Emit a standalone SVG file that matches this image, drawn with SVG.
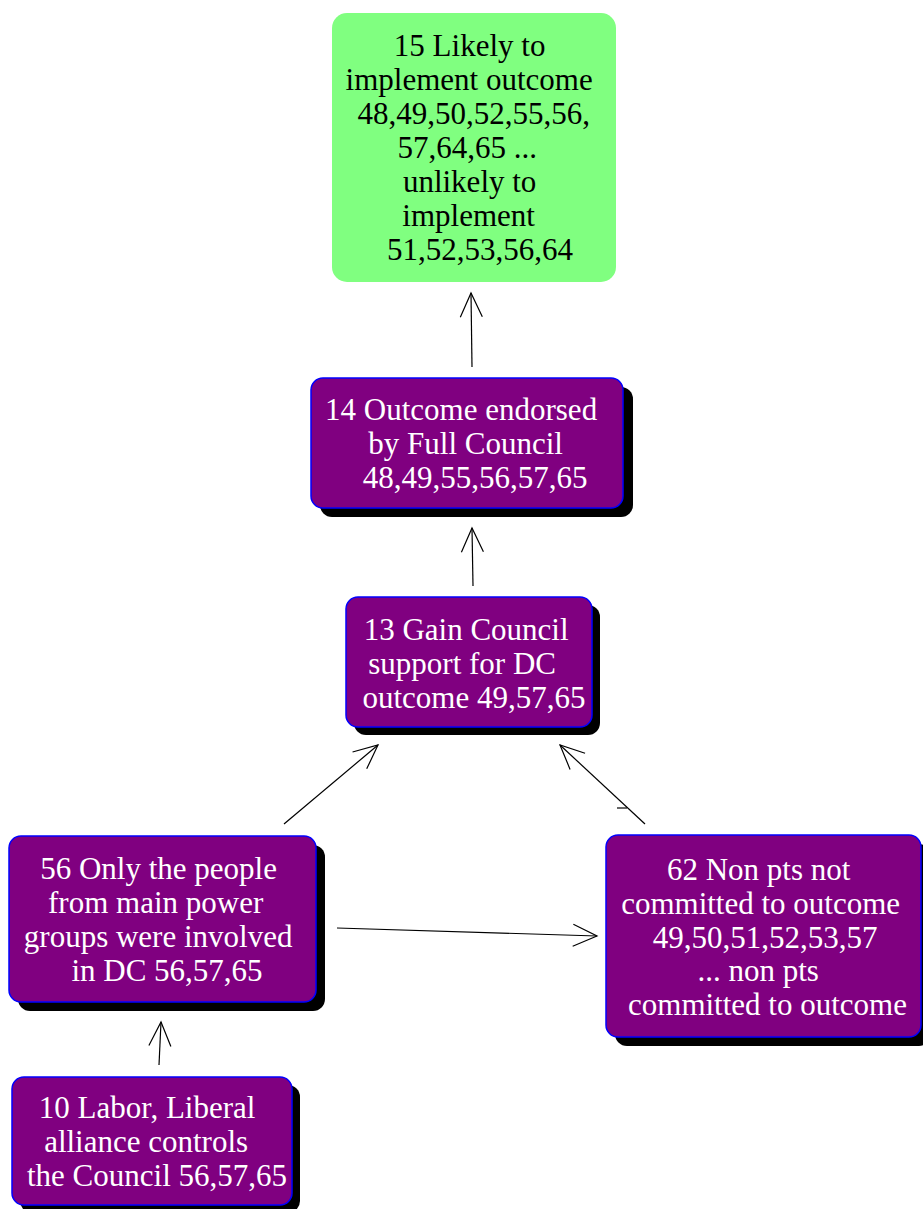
<svg xmlns="http://www.w3.org/2000/svg" width="923" height="1209" viewBox="0 0 923 1209">
  <style>
    .shadow { fill: #000000; }
    .box { fill: #800080; stroke: #0000ff; stroke-width: 1.5; }
    .goal { fill: #80ff80; stroke: none; }
    .label { font-family: "Liberation Serif", "Times New Roman", serif; font-size: 31px; text-anchor: middle; }
    .light { fill: #ffffff; }
    .dark { fill: #000000; }
    .edge { fill: none; stroke: #000000; stroke-width: 1.2; marker-end: url(#arrow); }
  </style>
  <defs>
    <marker id="arrow" markerUnits="userSpaceOnUse" viewBox="-27 -13 29 26" markerWidth="29" markerHeight="26" refX="0" refY="0" orient="auto" overflow="visible">
      <path d="M -24,-11 L 0,0 L -24,11" fill="none" stroke="#000000" stroke-width="1.2"/>
    </marker>
  </defs>

  <rect width="923" height="1209" fill="#ffffff"/>

  <!-- connectors -->
  <g id="connectors">
    <line class="edge" x1="472" y1="367" x2="471" y2="293"/>
    <line class="edge" x1="473" y1="586" x2="472" y2="528"/>
    <line class="edge" x1="284" y1="824" x2="378" y2="745"/>
    <line class="edge" x1="645" y1="824" x2="560" y2="745"/>
    <line x1="617" y1="808" x2="627" y2="808" stroke="#000000" stroke-width="1.2"/>
    <line class="edge" x1="337" y1="928" x2="597" y2="936"/>
    <line class="edge" x1="159" y1="1065" x2="161" y2="1022"/>
  </g>

  <!-- node 15 -->
  <g id="node15">
    <rect class="goal" x="332" y="13" width="284" height="269" rx="15" ry="15"/>
    <text class="label dark">
      <tspan x="473.5" y="56">15 Likely to</tspan>
      <tspan x="473" y="90">implement outcome</tspan>
      <tspan x="477.5" y="124">48,49,50,52,55,56,</tspan>
      <tspan x="471" y="158">57,64,65 ...</tspan>
      <tspan x="473.5" y="192">unlikely to</tspan>
      <tspan x="472.5" y="226">implement</tspan>
      <tspan x="480" y="260">51,52,53,56,64</tspan>
    </text>
  </g>

  <!-- node 14 -->
  <g id="node14">
    <rect class="shadow" x="320" y="387" width="313" height="130" rx="12" ry="12"/>
    <rect class="box" x="311" y="378" width="312" height="130" rx="12" ry="12"/>
    <text class="label light">
      <tspan x="465" y="420">14 Outcome endorsed</tspan>
      <tspan x="469.5" y="454">by Full Council</tspan>
      <tspan x="475" y="488">48,49,55,56,57,65</tspan>
    </text>
  </g>

  <!-- node 13 -->
  <g id="node13">
    <rect class="shadow" x="354" y="605" width="246" height="130" rx="12" ry="12"/>
    <rect class="box" x="346" y="597" width="246" height="130" rx="12" ry="12"/>
    <text class="label light">
      <tspan x="470" y="640">13 Gain Council</tspan>
      <tspan x="466" y="674">support for DC</tspan>
      <tspan x="474" y="708">outcome 49,57,65</tspan>
    </text>
  </g>

  <!-- node 56 -->
  <g id="node56">
    <rect class="shadow" x="18" y="845" width="307" height="166" rx="12" ry="12"/>
    <rect class="box" x="9" y="836" width="307" height="166" rx="12" ry="12"/>
    <text class="label light">
      <tspan x="162.5" y="879">56 Only the people</tspan>
      <tspan x="159.5" y="913">from main power</tspan>
      <tspan x="162" y="947">groups were involved</tspan>
      <tspan x="167" y="981">in DC 56,57,65</tspan>
    </text>
  </g>

  <!-- node 62 -->
  <g id="node62">
    <rect class="shadow" x="615" y="844" width="316" height="202" rx="12" ry="12"/>
    <rect class="box" x="606" y="835" width="315" height="202" rx="12" ry="12"/>
    <text class="label light">
      <tspan x="762.5" y="880">62 Non pts not</tspan>
      <tspan x="764.5" y="914">committed to outcome</tspan>
      <tspan x="769" y="948">49,50,51,52,53,57</tspan>
      <tspan x="762" y="981">... non pts</tspan>
      <tspan x="767.5" y="1015">committed to outcome</tspan>
    </text>
  </g>

  <!-- node 10 -->
  <g id="node10">
    <rect class="shadow" x="20" y="1085" width="280" height="128" rx="12" ry="12"/>
    <rect class="box" x="12" y="1077" width="280" height="128" rx="12" ry="12"/>
    <text class="label light">
      <tspan x="151" y="1118">10 Labor, Liberal</tspan>
      <tspan x="150" y="1152">alliance controls</tspan>
      <tspan x="157" y="1186">the Council 56,57,65</tspan>
    </text>
  </g>
</svg>
